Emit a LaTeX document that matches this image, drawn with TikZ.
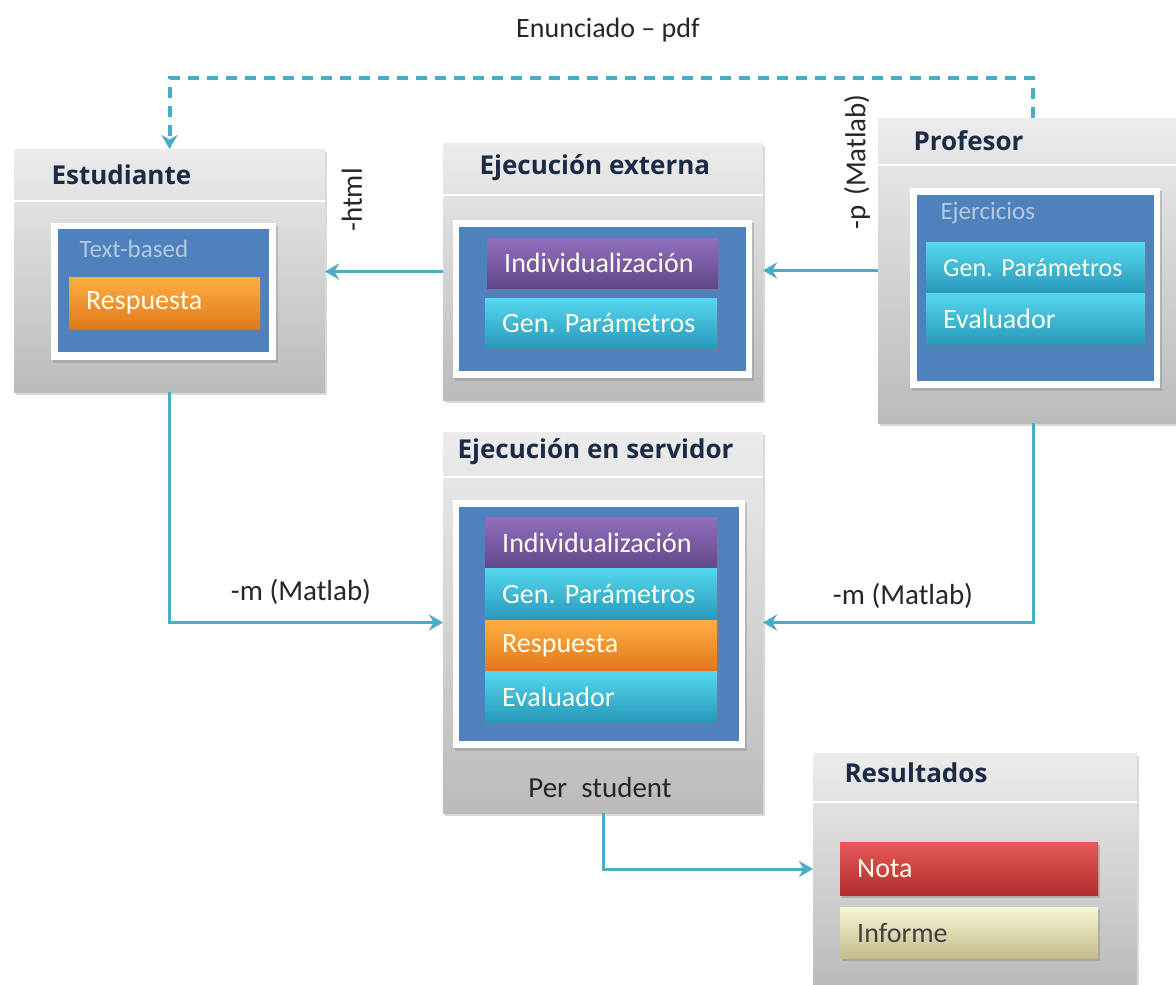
\documentclass[tikz,border=0pt]{standalone}
\usepackage{fontspec}
\setmainfont{Carlito}
\newfontfamily\headfont{Open Sans}
\usetikzlibrary{arrows.meta,shadows,positioning}

\definecolor{linkblue}{HTML}{4BACC6}
\definecolor{panelTop}{HTML}{ECECEC}
\definecolor{panelBot}{HTML}{BBBBBB}
\definecolor{wellblue}{HTML}{4F81BD}
\definecolor{paleblue}{HTML}{B4C8E2}
\definecolor{navy}{HTML}{1B2A45}
\definecolor{purpTop}{HTML}{9070BC}
\definecolor{purpBot}{HTML}{62468A}
\definecolor{cyanTop}{HTML}{55D8F0}
\definecolor{cyanBot}{HTML}{2898BA}
\definecolor{oranTop}{HTML}{FFAE45}
\definecolor{oranBot}{HTML}{E0781A}
\definecolor{redTop}{HTML}{E85858}
\definecolor{redBot}{HTML}{B02E2E}
\definecolor{khakTop}{HTML}{F8F5D6}
\definecolor{khakBot}{HTML}{C4BC8C}

\frenchspacing

\begin{document}
\begin{tikzpicture}[x=1pt, y=-1pt,
  link/.style={draw=linkblue, line width=3pt, -{Stealth[length=14pt,width=16pt]}},
  dashlink/.style={link, line width=4pt, dash pattern=on 11pt off 8pt},
  panel/.style 2 args={anchor=north west, inner sep=0pt, outer sep=0pt,
    minimum width=#1pt, minimum height=#2pt, top color=panelTop, bottom color=panelBot,
    drop shadow={shadow xshift=2pt, shadow yshift=-3pt, opacity=0.3}},
  frame/.style 2 args={anchor=north west, inner sep=0pt, minimum width=#1pt,
    minimum height=#2pt, fill=white, drop shadow={shadow xshift=2pt, shadow yshift=-3pt, opacity=0.35}},
  well/.style 2 args={anchor=north west, inner sep=0pt, minimum width=#1pt,
    minimum height=#2pt, fill=wellblue},
  btn/.style 2 args={anchor=north west, inner sep=0pt, text width=#1pt,
    minimum height=#2pt, align=left, text=white!93!yellow,
    font=\fontsize{28}{32}\selectfont, execute at begin node=\hspace*{17pt},
    drop shadow={shadow xshift=2pt, shadow yshift=-3pt, opacity=0.4}},
  purp/.style={top color=purpTop, bottom color=purpBot},
  cyan/.style={top color=cyanTop, bottom color=cyanBot},
  oran/.style={top color=oranTop, bottom color=oranBot},
  redb/.style={top color=redTop, bottom color=redBot},
  khak/.style={top color=khakTop, bottom color=khakBot, text=black!75},
  title/.style={anchor=west, text=navy, font=\headfont\bfseries\fontsize{26}{30}\selectfont},
  tag/.style={font=\fontsize{25}{29}\selectfont, text=paleblue, anchor=west},
  note/.style={font=\fontsize{29}{34}\selectfont, text=black!85},
  headline/.style={draw=white, line width=1.5pt}]

\useasboundingbox (0,0) rectangle (1176,985);

% panels
\node[panel={311}{243}] (stud) at (14,149) {};
\node[panel={320}{257}] (ext) at (443,143) {};
\node[panel={310}{305}] (prof) at (878,118) {};
\node[panel={320}{381}] (srv) at (443,432) {};
\node[panel={324}{232}] (res) at (813,753) {};

\foreach \b/\h in {stud/52, ext/52, prof/47, srv/45, res/49}
  \draw[headline] ([yshift=-\h pt]\b.north west) -- ([yshift=-\h pt]\b.north east);

\node[title] (studT) at (48,175) {Estudiante};
\node[title] (extT) at (476,168) {Ejecución externa};
\node[title] (profT) at (910,141) {Profesor};
\node[title] (srvT) at (454,452) {Ejecución en servidor};
\node[title] (resT) at (841,773) {Resultados};

% Estudiante
\node[frame={225}{137}] (studF) at (51,223) {};
\node[well={211}{123}] (studW) at (58,229) {};
\node[tag] (studL) at (76,249) {Text-based};
\node[btn={191}{52}, oran] (studR) at (69,277) {Respuesta};

% Ejecucion externa
\node[frame={299}{158}] (extF) at (453,220) {};
\node[well={287}{144}] (extW) at (459,227) {};
\node[btn={231}{50}, purp] (extI) at (487,238) {Individualización};
\node[btn={232}{50}, cyan] (extG) at (485,298) {Gen. Parámetros};

% Profesor
\node[frame={250}{200}] (profF) at (910,188) {};
\node[well={237}{186}] (profW) at (917,195) {};
\node[tag] (profL) at (937,213) {Ejercicios};
\node[btn={219}{51}, cyan, font=\fontsize{26}{30}\selectfont] (profG) at (926,242) {Gen. Parámetros};
\node[btn={219}{52}, cyan] (profE) at (926,293) {Evaluador};

% Ejecucion en servidor
\node[frame={292}{248}] (srvF) at (453,500) {};
\node[well={280}{234}] (srvW) at (459,507) {};
\node[btn={232}{51}, purp] (srvI) at (485,517) {Individualización};
\node[btn={232}{52}, cyan] (srvG) at (485,568) {Gen. Parámetros};
\node[btn={232}{51}, oran] (srvR) at (485,620) {Respuesta};
\node[btn={232}{51}, cyan] (srvE) at (485,671) {Evaluador};
\node[note] (srvN) at (600,788) {Per\hspace{14pt}student};

% Resultados
\node[btn={258}{53}, redb] (resN) at (840,842) {Nota};
\node[btn={258}{51}, khak] (resI) at (840,907) {Informe};

% connectors
\draw[dashlink] (prof.north) -- ++(0,-40) -| (stud.north);
\draw[link] (prof.west) -- (prof.west -| ext.east);
\draw[link] (ext.west) -- (ext.west -| stud.east);
\draw[link] (stud.south) |- (srv.west);
\draw[link] (prof.south) |- (srv.east);
\draw[link] (srv.south) |- (res.west);

\node[note, font=\fontsize{28}{32}\selectfont] (pdfL) at (608,30) {Enunciado – pdf};
\node[note, rotate=90] (htmlL) at (352,200) {-html};
\node[note, rotate=90] (pL) at (857,162) {-p\hspace{10pt}(Matlab)};
\node[note] (mL) at (301,592) {-m (Matlab)};
\node[note] (mR) at (903,596) {-m (Matlab)};

\end{tikzpicture}
\end{document}
